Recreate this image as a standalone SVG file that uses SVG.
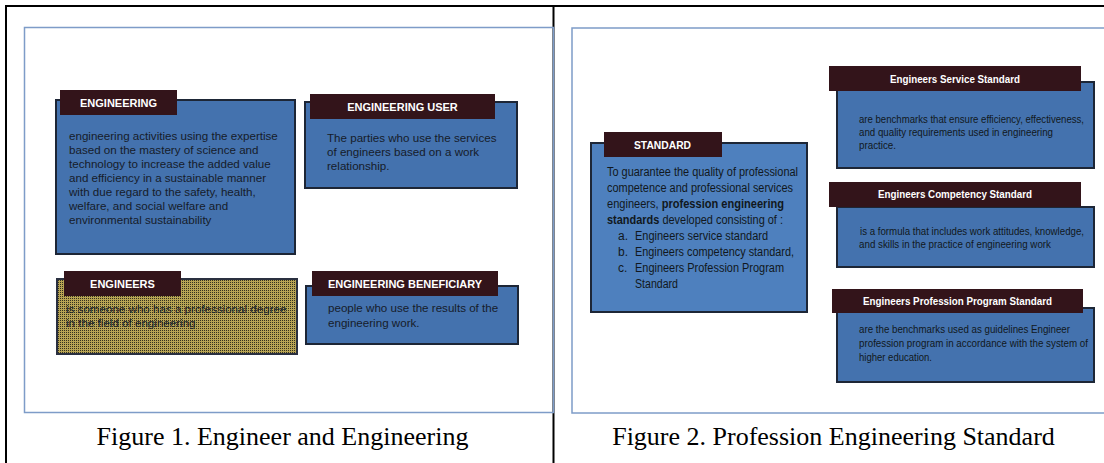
<svg xmlns="http://www.w3.org/2000/svg" width="1104" height="463" viewBox="0 0 1104 463">
<defs>
<pattern id="dots" width="2" height="2" patternUnits="userSpaceOnUse">
<rect width="2" height="2" fill="#b8a454"/>
<rect width="1" height="1" fill="#34311f"/>
</pattern>
</defs>
<style>
.frame{fill:none;stroke:#7e9cc8;stroke-width:1.5}
.rule{fill:none;stroke:#000;stroke-width:2}
.box{fill:#4472ae;stroke:#1d2636;stroke-width:2}
.box2{fill:#4e80be;stroke:#1d2636;stroke-width:2}
.dot{fill:url(#dots);stroke:#2a3040;stroke-width:2}
.tab{fill:#33141a}
.t1{font-family:"Liberation Sans",Arial,sans-serif;font-size:11px;font-weight:bold;fill:#fff;text-anchor:middle}
.b1{font-family:"Liberation Sans",Arial,sans-serif;font-size:11.6px;fill:#161c2a}
.t2{font-family:"Liberation Sans Narrow","Arial Narrow","Liberation Sans",sans-serif;font-size:11px;font-weight:bold;fill:#fff;text-anchor:middle}
.b2{font-family:"Liberation Sans Narrow","Arial Narrow","Liberation Sans",sans-serif;font-size:10.5px;fill:#111820}
.s2{font-family:"Liberation Sans Narrow","Arial Narrow","Liberation Sans",sans-serif;font-size:12px;fill:#111820}
.bold{font-weight:bold}
.cap{font-family:"Liberation Serif","Times New Roman",serif;font-size:26px;fill:#000;text-anchor:middle}
</style>
<path class="rule" d="M6,463 V6 H1104 M553.5,6 V463"/>
<rect class="frame" x="24.5" y="27.5" width="529" height="385"/>
<rect class="frame" x="572" y="28" width="540" height="385"/>
<g id="engineering">
<rect class="box" x="56" y="100" width="239" height="154"/>
<rect class="tab" x="60" y="90" width="117" height="25"/>
<text class="t1" x="118.5" y="107">ENGINEERING</text>
<text class="b1" x="69" y="140">engineering activities  using the expertise</text>
<text class="b1" x="69" y="154">based on the mastery of science and</text>
<text class="b1" x="69" y="168">technology to increase the added value</text>
<text class="b1" x="69" y="182">and efficiency in a sustainable manner</text>
<text class="b1" x="69" y="196">with due regard to the safety, health,</text>
<text class="b1" x="69" y="210">welfare, and social welfare and</text>
<text class="b1" x="69" y="224">environmental sustainability</text>
</g>
<g id="engineering-user">
<rect class="box" x="305" y="102" width="212" height="86"/>
<rect class="tab" x="310" y="94" width="185" height="25"/>
<text class="t1" x="402.5" y="111">ENGINEERING  USER</text>
<text class="b1" x="327" y="142">The parties who use the services</text>
<text class="b1" x="327" y="156">of engineers based on a work</text>
<text class="b1" x="327" y="170">relationship.</text>
</g>
<g id="engineers">
<rect class="dot" x="57" y="279" width="240" height="75"/>
<rect class="tab" x="64" y="271" width="117" height="25"/>
<text class="t1" x="122.5" y="288">ENGINEERS</text>
<text class="b1" x="66" y="313">is someone who has a professional degree</text>
<text class="b1" x="66" y="327">in the field of engineering</text>
</g>
<g id="engineering-beneficiary">
<rect class="box" x="306" y="286" width="212" height="58"/>
<rect class="tab" x="312" y="271" width="186" height="25"/>
<text class="t1" x="405" y="288">ENGINEERING  BENEFICIARY</text>
<text class="b1" x="328" y="312">people who use the results of the</text>
<text class="b1" x="328" y="327">engineering work.</text>
</g>
<g id="standard">
<rect class="box2" x="591" y="143" width="216" height="169"/>
<rect class="tab" x="604" y="132" width="118" height="25"/>
<text class="t2" x="662.5" y="149" font-size="12" textLength="57" lengthAdjust="spacingAndGlyphs">STANDARD</text>
<text class="s2" x="607" y="176" textLength="191" lengthAdjust="spacingAndGlyphs">To guarantee the quality of professional</text>
<text class="s2" x="607" y="192" textLength="186" lengthAdjust="spacingAndGlyphs">competence and professional services</text>
<text class="s2" x="607" y="208" textLength="177" lengthAdjust="spacingAndGlyphs">engineers, <tspan class="bold">profession engineering</tspan></text>
<text class="s2" x="607" y="224" textLength="176" lengthAdjust="spacingAndGlyphs"><tspan class="bold">standards</tspan> developed consisting of :</text>
<text class="s2" x="618" y="240">a.</text>
<text class="s2" x="635" y="240" textLength="133" lengthAdjust="spacingAndGlyphs">Engineers service standard</text>
<text class="s2" x="618" y="256">b.</text>
<text class="s2" x="635" y="256" textLength="159" lengthAdjust="spacingAndGlyphs">Engineers competency standard,</text>
<text class="s2" x="618" y="272">c.</text>
<text class="s2" x="635" y="272" textLength="149" lengthAdjust="spacingAndGlyphs">Engineers Profession Program</text>
<text class="s2" x="635" y="288" textLength="43" lengthAdjust="spacingAndGlyphs">Standard</text>
</g>
<g id="service-standard">
<rect class="box" x="837" y="82" width="257" height="86"/>
<rect class="tab" x="829" y="66" width="252" height="25"/>
<text class="t2" x="955" y="83" textLength="130" lengthAdjust="spacingAndGlyphs">Engineers Service Standard</text>
<text class="b2" x="859" y="123" textLength="225" lengthAdjust="spacingAndGlyphs">are benchmarks that ensure efficiency, effectiveness,</text>
<text class="b2" x="859" y="136" textLength="194" lengthAdjust="spacingAndGlyphs">and quality requirements used in engineering</text>
<text class="b2" x="859" y="149" textLength="37" lengthAdjust="spacingAndGlyphs">practice.</text>
</g>
<g id="competency-standard">
<rect class="box" x="837" y="207" width="257" height="60"/>
<rect class="tab" x="829" y="182" width="252" height="25"/>
<text class="t2" x="955" y="198" textLength="154" lengthAdjust="spacingAndGlyphs">Engineers Competency Standard</text>
<text class="b2" x="860" y="235" textLength="224" lengthAdjust="spacingAndGlyphs">is a formula that includes work attitudes, knowledge,</text>
<text class="b2" x="859" y="248" textLength="192" lengthAdjust="spacingAndGlyphs">and skills in the practice of engineering work</text>
</g>
<g id="program-standard">
<rect class="box" x="837" y="308" width="257" height="74"/>
<rect class="tab" x="832" y="289" width="251" height="24"/>
<text class="t2" x="957.5" y="305" textLength="189" lengthAdjust="spacingAndGlyphs">Engineers Profession Program Standard</text>
<text class="b2" x="859" y="333" textLength="211" lengthAdjust="spacingAndGlyphs">are the benchmarks used as guidelines Engineer</text>
<text class="b2" x="859" y="347" textLength="229" lengthAdjust="spacingAndGlyphs">profession program in accordance with the system of</text>
<text class="b2" x="859" y="361" textLength="73" lengthAdjust="spacingAndGlyphs">higher education.</text>
</g>
<text class="cap" x="282.5" y="445">Figure 1. Engineer and Engineering</text>
<text class="cap" x="833.5" y="445">Figure 2. Profession Engineering Standard</text>
</svg>
